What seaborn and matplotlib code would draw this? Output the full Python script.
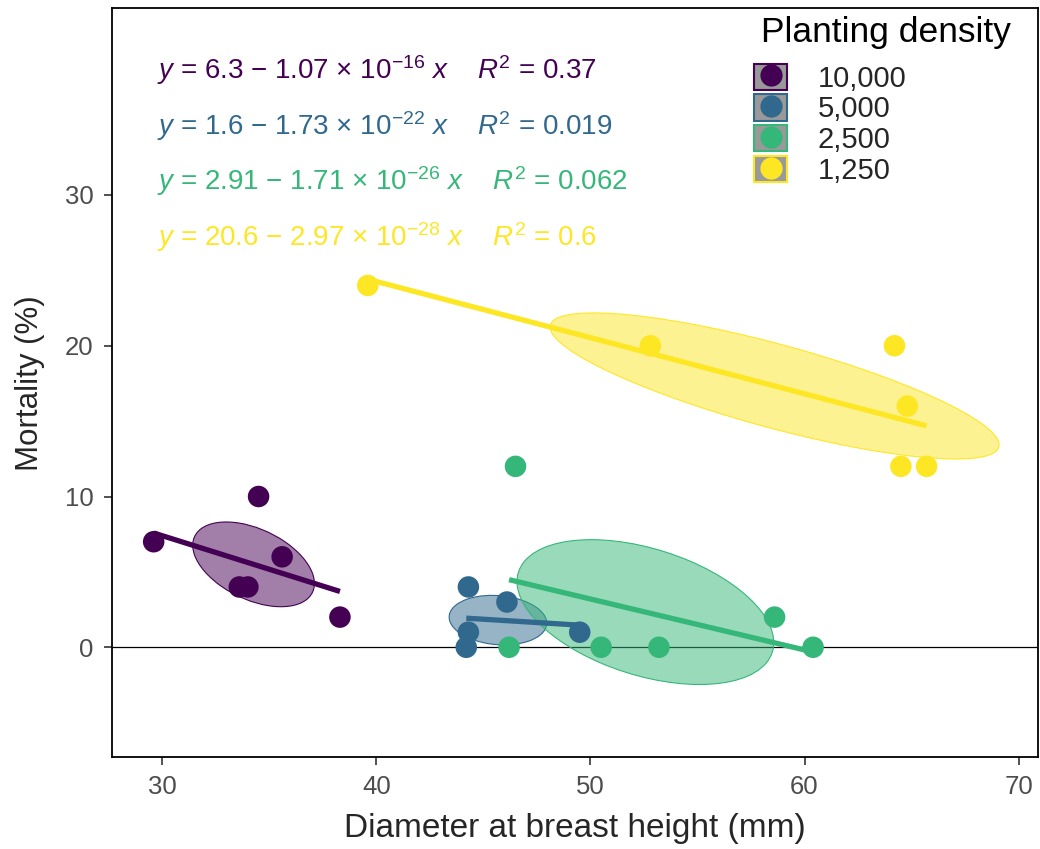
#!/usr/bin/env python3
"""Mortality vs DBH by planting density, with lm fits and 1-sd ellipses."""

import numpy as np
import pandas as pd
import matplotlib
matplotlib.use("Agg")
import matplotlib.pyplot as plt
import seaborn as sns
from matplotlib.patches import Ellipse, Patch
from matplotlib.lines import Line2D
from matplotlib.legend_handler import HandlerTuple

# Data
density_labels = ["10,000", "5,000", "2,500", "1,250"]
palette = ["#440154", "#31688E", "#35B779", "#FDE725"]

dbh_10000 = [29.6, 33.6, 34.0, 34.5, 35.6, 38.3]
mort_10000 = [7, 4, 4, 10, 6, 2]
dbh_5000 = [44.3, 46.1, 44.3, 44.2, 49.5]
mort_5000 = [4, 3, 1, 0, 1]
dbh_2500 = [46.5, 46.2, 50.5, 53.2, 58.6, 60.4]
mort_2500 = [12, 0, 0, 0, 2, 0]
dbh_1250 = [39.6, 52.8, 64.2, 64.8, 64.5, 65.7]
mort_1250 = [24, 20, 20, 16, 12, 12]

equations = [
    r"$y$ = 6.3 $-$ 1.07 $\times$ 10$^{-16}$ $x$    $R^2$ = 0.37",
    r"$y$ = 1.6 $-$ 1.73 $\times$ 10$^{-22}$ $x$    $R^2$ = 0.019",
    r"$y$ = 2.91 $-$ 1.71 $\times$ 10$^{-26}$ $x$    $R^2$ = 0.062",
    r"$y$ = 20.6 $-$ 2.97 $\times$ 10$^{-28}$ $x$    $R^2$ = 0.6",
]
eq_y = [38.3, 34.6, 30.9, 27.2]


def cov_ellipse(x, y, color, ax):
    x = np.asarray(x, float)
    y = np.asarray(y, float)
    cov = np.cov(x, y)
    vals, vecs = np.linalg.eigh(cov)
    order = vals.argsort()[::-1]
    vals, vecs = vals[order], vecs[:, order]
    angle = np.degrees(np.arctan2(vecs[1, 0], vecs[0, 0]))
    w, h = 2 * np.sqrt(vals)
    e = Ellipse((x.mean(), y.mean()), w, h, angle=angle,
                facecolor=color, alpha=0.5, edgecolor="none", zorder=1)
    ax.add_patch(e)
    e2 = Ellipse((x.mean(), y.mean()), w, h, angle=angle,
                 facecolor="none", edgecolor=color, linewidth=0.8, zorder=1)
    ax.add_patch(e2)


def main():
    sns.set_style("white")
    plt.rcParams["font.family"] = ["Liberation Sans", "DejaVu Sans"]
    plt.rcParams["mathtext.fontset"] = "custom"
    plt.rcParams["mathtext.rm"] = "Liberation Sans"
    plt.rcParams["mathtext.it"] = "Liberation Sans:italic"
    plt.rcParams["mathtext.bf"] = "Liberation Sans:bold"

    groups = [
        (dbh_10000, mort_10000),
        (dbh_5000, mort_5000),
        (dbh_2500, mort_2500),
        (dbh_1250, mort_1250),
    ]
    frames = []
    for lab, (xs, ys) in zip(density_labels, groups):
        frames.append(pd.DataFrame({"dbh": xs, "mortality": ys, "density": lab}))
    df = pd.concat(frames, ignore_index=True)

    fig = plt.figure(figsize=(10.4, 8.49), dpi=100)
    ax = fig.add_axes([0.1074, 0.108, 0.8906, 0.8825])

    ax.axhline(0, color="black", linewidth=0.9, zorder=0.5)

    for lab, col in zip(density_labels, palette):
        sub = df[df["density"] == lab]
        cov_ellipse(sub["dbh"], sub["mortality"], col, ax)
        sns.regplot(data=sub, x="dbh", y="mortality", ax=ax, ci=None,
                    scatter=False, color=col,
                    line_kws={"linewidth": 3.8, "zorder": 2,
                              "solid_capstyle": "butt"})

    sns.scatterplot(data=df, x="dbh", y="mortality", hue="density",
                    hue_order=density_labels, palette=palette, s=240,
                    linewidth=0, ax=ax, legend=False, zorder=3)

    for txt, yy, col in zip(equations, eq_y, palette):
        ax.text(29.75, yy, txt, color=col, fontsize=20, va="center", ha="left")

    ax.set_xlim(27.64, 70.9)
    ax.set_ylim(-7.3, 42.4)
    ax.set_xticks([30, 40, 50, 60, 70])
    ax.set_yticks([0, 10, 20, 30])
    ax.set_xlabel("Diameter at breast height (mm)", fontsize=24, labelpad=10)
    ax.set_ylabel("Mortality (%)", fontsize=22.5, labelpad=14)
    ax.tick_params(axis="both", labelsize=18.5, colors="#4d4d4d", length=6,
                   width=1.2, direction="out", pad=7, bottom=True, left=True)
    ax.tick_params(axis="both", color="#333333")
    for sp in ax.spines.values():
        sp.set_color("black")
        sp.set_linewidth(1.3)

    handles = []
    for col in palette:
        sq = Patch(facecolor="#999999", edgecolor=col, linewidth=1.5)
        dot = Line2D([], [], linestyle="none", marker="o", markersize=15,
                     markerfacecolor=col, markeredgecolor=col)
        handles.append((sq, dot))
    ax.legend(handles, density_labels,
              handler_map={tuple: HandlerTuple(ndivide=1, pad=0)},
              loc="upper left", bbox_to_anchor=(0.668, 0.957),
              frameon=False, fontsize=21,
              handlelength=1.15, handleheight=1.0, labelspacing=0.06,
              handletextpad=1.05, borderpad=0.3)
    ax.text(0.701, 0.968, "Planting density", transform=ax.transAxes,
            fontsize=25.5, ha="left", va="center", color="black")

    fig.savefig("out.png", dpi=100, facecolor="white")
    plt.close(fig)


if __name__ == "__main__":
    main()
